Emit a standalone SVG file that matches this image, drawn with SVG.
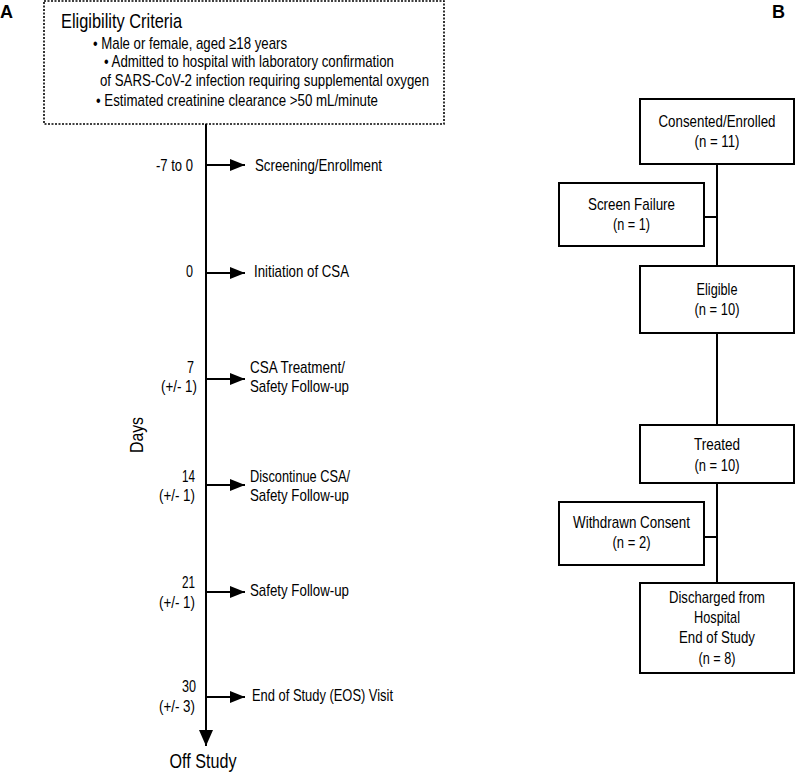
<svg xmlns="http://www.w3.org/2000/svg" width="797" height="774" viewBox="0 0 797 774">
<style>
text{font-family:"Liberation Sans",Arial,sans-serif;fill:#000;font-size:17px}
.big{font-size:21px}
.lab{font-size:18px;font-weight:bold}
.box{fill:#fff;stroke:#000;stroke-width:2}
.ln{stroke:#000;stroke-width:2;fill:none}
.mid{text-anchor:middle}
.end{text-anchor:end}
</style>
<defs>
<marker id="ah" markerWidth="16" markerHeight="12" refX="15" refY="6" orient="auto" markerUnits="userSpaceOnUse">
<path d="M0,0 L15,6 L0,12 Z" fill="#000"/>
</marker>
<marker id="ahv" markerWidth="14" markerHeight="18" refX="7" refY="16" orient="0" markerUnits="userSpaceOnUse">
<path d="M0,0 L7,16 L14,0 Z" fill="#000"/>
</marker>
</defs>
<rect width="797" height="774" fill="#fff"/>
<text class="lab" x="0" y="18">A</text>
<text class="lab" x="772" y="18">B</text>

<g id="eligibility">
<rect x="44" y="1" width="400" height="123" fill="#fff" stroke="#000" stroke-width="1.6" stroke-dasharray="2 1.5"/>
<text class="big" x="61" y="28" textLength="121" lengthAdjust="spacingAndGlyphs">Eligibility Criteria</text>
<text x="93" y="49" textLength="194" lengthAdjust="spacingAndGlyphs">• Male or female, aged ≥18 years</text>
<text x="104" y="67" textLength="290" lengthAdjust="spacingAndGlyphs">• Admitted to hospital with laboratory confirmation</text>
<text x="100" y="86" textLength="329" lengthAdjust="spacingAndGlyphs">of SARS-CoV-2 infection requiring supplemental oxygen</text>
<text x="96" y="106" textLength="282" lengthAdjust="spacingAndGlyphs">• Estimated creatinine clearance &gt;50 mL/minute</text>
</g>

<g id="timeline-connectors">
<line class="ln" x1="206" y1="124" x2="206" y2="746" marker-end="url(#ahv)"/>
<line class="ln" x1="206" y1="165" x2="245" y2="165" marker-end="url(#ah)"/>
<line class="ln" x1="206" y1="273" x2="245" y2="273" marker-end="url(#ah)"/>
<line class="ln" x1="206" y1="379" x2="245" y2="379" marker-end="url(#ah)"/>
<line class="ln" x1="206" y1="485" x2="245" y2="485" marker-end="url(#ah)"/>
<line class="ln" x1="206" y1="592" x2="245" y2="592" marker-end="url(#ah)"/>
<line class="ln" x1="206" y1="697" x2="245" y2="697" marker-end="url(#ah)"/>
</g>

<g id="days-axis">
<text class="mid" transform="translate(143,435) rotate(-90)" style="font-size:19px" textLength="36" lengthAdjust="spacingAndGlyphs">Days</text>
<text class="mid" x="203" y="768" style="font-size:20px" textLength="67" lengthAdjust="spacingAndGlyphs">Off Study</text>
</g>

<g id="t-screening">
<text class="end" x="193" y="171" textLength="37" lengthAdjust="spacingAndGlyphs">-7 to 0</text>
<text x="255" y="171" textLength="127" lengthAdjust="spacingAndGlyphs">Screening/Enrollment</text>
</g>
<g id="t-initiation">
<text class="end" x="193" y="277" textLength="7" lengthAdjust="spacingAndGlyphs">0</text>
<text x="254" y="277" textLength="95" lengthAdjust="spacingAndGlyphs">Initiation of CSA</text>
</g>
<g id="t-day7">
<text class="end" x="194" y="373" textLength="7" lengthAdjust="spacingAndGlyphs">7</text>
<text class="end" x="197" y="392" textLength="36" lengthAdjust="spacingAndGlyphs">(+/- 1)</text>
<text x="250" y="373" textLength="95" lengthAdjust="spacingAndGlyphs">CSA Treatment/</text>
<text x="250" y="392" textLength="99" lengthAdjust="spacingAndGlyphs">Safety Follow-up</text>
</g>
<g id="t-day14">
<text class="end" x="195" y="482" textLength="13" lengthAdjust="spacingAndGlyphs">14</text>
<text class="end" x="195" y="501" textLength="36" lengthAdjust="spacingAndGlyphs">(+/- 1)</text>
<text x="250" y="482" textLength="100" lengthAdjust="spacingAndGlyphs">Discontinue CSA/</text>
<text x="250" y="501" textLength="99" lengthAdjust="spacingAndGlyphs">Safety Follow-up</text>
</g>
<g id="t-day21">
<text class="end" x="195" y="588" textLength="13" lengthAdjust="spacingAndGlyphs">21</text>
<text class="end" x="195" y="608" textLength="36" lengthAdjust="spacingAndGlyphs">(+/- 1)</text>
<text x="250" y="596" textLength="99" lengthAdjust="spacingAndGlyphs">Safety Follow-up</text>
</g>
<g id="t-day30">
<text class="end" x="196" y="692" textLength="14" lengthAdjust="spacingAndGlyphs">30</text>
<text class="end" x="195" y="712" textLength="36" lengthAdjust="spacingAndGlyphs">(+/- 3)</text>
<text x="252" y="701" textLength="141" lengthAdjust="spacingAndGlyphs">End of Study (EOS) Visit</text>
</g>

<g id="flow-connectors">
<path class="ln" d="M717,164 V266 M704,217 H717 M717,333 V425 M717,483 V583 M704,537 H717"/>
</g>

<g id="consented">
<rect class="box" x="640" y="99" width="154" height="65"/>
<text class="mid" x="717" y="127" textLength="117" lengthAdjust="spacingAndGlyphs">Consented/Enrolled</text>
<text class="mid" x="717" y="147" textLength="45" lengthAdjust="spacingAndGlyphs">(n = 11)</text>
</g>
<g id="screen-failure">
<rect class="box" x="559" y="183" width="145" height="63"/>
<text class="mid" x="631.5" y="210" textLength="87" lengthAdjust="spacingAndGlyphs">Screen Failure</text>
<text class="mid" x="631.5" y="230" textLength="37" lengthAdjust="spacingAndGlyphs">(n = 1)</text>
</g>
<g id="eligible">
<rect class="box" x="640" y="266" width="154" height="67"/>
<text class="mid" x="717" y="295" textLength="41" lengthAdjust="spacingAndGlyphs">Eligible</text>
<text class="mid" x="717" y="315" textLength="45" lengthAdjust="spacingAndGlyphs">(n = 10)</text>
</g>
<g id="treated">
<rect class="box" x="640" y="425" width="154" height="58"/>
<text class="mid" x="717" y="450" textLength="46" lengthAdjust="spacingAndGlyphs">Treated</text>
<text class="mid" x="717" y="471" textLength="45" lengthAdjust="spacingAndGlyphs">(n = 10)</text>
</g>
<g id="withdrawn">
<rect class="box" x="559" y="502" width="145" height="63"/>
<text class="mid" x="631.5" y="528" textLength="117" lengthAdjust="spacingAndGlyphs">Withdrawn Consent</text>
<text class="mid" x="631.5" y="548" textLength="38" lengthAdjust="spacingAndGlyphs">(n = 2)</text>
</g>
<g id="discharged">
<rect class="box" x="640" y="583" width="154" height="90"/>
<text class="mid" x="717" y="603" textLength="96" lengthAdjust="spacingAndGlyphs">Discharged from</text>
<text class="mid" x="717" y="623" textLength="46" lengthAdjust="spacingAndGlyphs">Hospital</text>
<text class="mid" x="717" y="643" textLength="76" lengthAdjust="spacingAndGlyphs">End of Study</text>
<text class="mid" x="717" y="664" textLength="37" lengthAdjust="spacingAndGlyphs">(n = 8)</text>
</g>
</svg>
